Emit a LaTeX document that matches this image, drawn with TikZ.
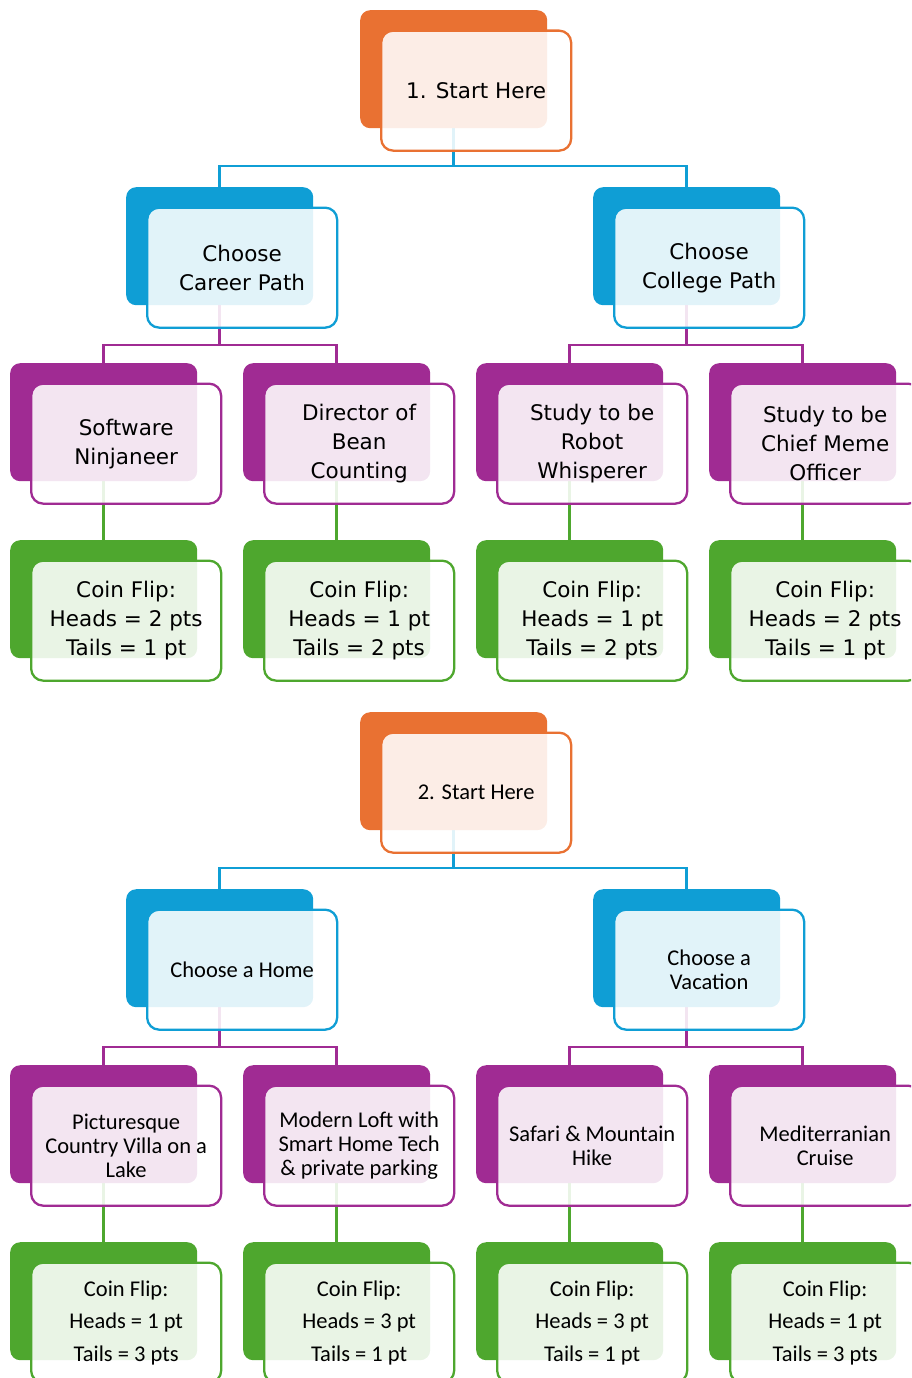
\documentclass[tikz,border=0pt]{standalone}
\usepackage{fontspec}
\setmainfont{DejaVu Sans}
\newfontfamily\lowfont{Carlito}
\usetikzlibrary{calc}
\pgfdeclarelayer{bg}
\pgfsetlayers{bg,main}
\definecolor{cOr}{HTML}{E97132}
\definecolor{cBl}{HTML}{0F9ED5}
\definecolor{cPu}{HTML}{A02B93}
\definecolor{cGr}{HTML}{4EA72E}
\tikzset{
  backbox/.style={draw=none, fill=#1, rounded corners=10pt, minimum width=187pt,
    minimum height=118pt, inner sep=0pt, anchor=north west},
  frontbox/.style={draw=#1, fill=white, fill opacity=0.88, text opacity=1,
    line width=2.3pt, rounded corners=12pt, minimum width=190pt, minimum height=120pt,
    inner sep=0pt, anchor=north west, align=center},
  link/.style={draw=#1, line width=2.6pt},
  topfont/.style={font=\fontsize{21.5}{29}\selectfont},
  lowfont/.style={font=\lowfont\fontsize{22.5}{24}\selectfont},
  coinfont/.style={font=\lowfont\fontsize{22.5}{32.5}\selectfont},
}
\newcommand\twobox[6]{%
  \node[backbox=#4] (#1b) at (#2,#3) {};
  \node[frontbox=#4, #5] (#1f) at ({#2+20},{#3+19.5}) {#6};
}
\begin{document}
\begin{tikzpicture}[x=1pt,y=-1pt]
\useasboundingbox (0,0) rectangle (911,1378);
\clip (0,0) rectangle (911,1378);
% ---------- upper tree ----------
\twobox{A}{360}{10}{cOr}{topfont}{1. Start Here}
\twobox{Ba}{126}{187}{cBl}{topfont}{Choose\\Career Path}
\twobox{Bb}{593}{187}{cBl}{topfont}{Choose\\College Path}
\twobox{Ca}{10}{363}{cPu}{topfont}{Software\\Ninjaneer}
\twobox{Cb}{243}{363}{cPu}{topfont}{Director of\\Bean\\Counting}
\twobox{Cc}{476}{363}{cPu}{topfont}{Study to be\\Robot\\Whisperer}
\twobox{Cd}{709}{363}{cPu}{topfont}{Study to be\\Chief Meme\\Officer}
\twobox{Da}{10}{540}{cGr}{topfont}{Coin Flip:\\Heads = 2 pts\\Tails = 1 pt}
\twobox{Db}{243}{540}{cGr}{topfont}{Coin Flip:\\Heads = 1 pt\\Tails = 2 pts}
\twobox{Dc}{476}{540}{cGr}{topfont}{Coin Flip:\\Heads = 1 pt\\Tails = 2 pts}
\twobox{Dd}{709}{540}{cGr}{topfont}{Coin Flip:\\Heads = 2 pts\\Tails = 1 pt}
% ---------- lower tree ----------
\twobox{E}{360}{712}{cOr}{lowfont}{2. Start Here}
\twobox{Fa}{126}{889}{cBl}{lowfont}{Choose a Home}
\twobox{Fb}{593}{889}{cBl}{lowfont}{Choose a\\Vacation}
\twobox{Ga}{10}{1065}{cPu}{lowfont}{Picturesque\\Country Villa on a\\Lake}
\twobox{Gb}{243}{1065}{cPu}{lowfont}{Modern Loft with\\Smart Home Tech\\\& private parking}
\twobox{Gc}{476}{1065}{cPu}{lowfont}{Safari \& Mountain\\Hike}
\twobox{Gd}{709}{1065}{cPu}{lowfont}{Mediterranian\\Cruise}
\twobox{Ha}{10}{1242}{cGr}{coinfont}{Coin Flip:\\Heads = 1 pt\\Tails = 3 pts}
\twobox{Hb}{243}{1242}{cGr}{coinfont}{Coin Flip:\\Heads = 3 pt\\Tails = 1 pt}
\twobox{Hc}{476}{1242}{cGr}{coinfont}{Coin Flip:\\Heads = 3 pt\\Tails = 1 pt}
\twobox{Hd}{709}{1242}{cGr}{coinfont}{Coin Flip:\\Heads = 1 pt\\Tails = 3 pts}
% ---------- connectors ----------
\coordinate (m1) at (0,166);
\coordinate (m2) at (0,345);
\coordinate (m3) at (0,868);
\coordinate (m4) at (0,1047);
\begin{pgfonlayer}{bg}
  \foreach \p/\c/\m in {A/Ba/m1, A/Bb/m1, E/Fa/m3, E/Fb/m3}
    \draw[link=cBl] (\p b.center) -- (\p b.center |- \m) -| (\c b.center);
  \foreach \p/\c/\m in {Ba/Ca/m2, Ba/Cb/m2, Bb/Cc/m2, Bb/Cd/m2,
                        Fa/Ga/m4, Fa/Gb/m4, Fb/Gc/m4, Fb/Gd/m4}
    \draw[link=cPu] (\p b.center) -- (\p b.center |- \m) -| (\c b.center);
  \foreach \p/\c in {Ca/Da, Cb/Db, Cc/Dc, Cd/Dd, Ga/Ha, Gb/Hb, Gc/Hc, Gd/Hd}
    \draw[link=cGr] (\p b.center) -- (\c b.center);
\end{pgfonlayer}
\end{tikzpicture}
\end{document}
